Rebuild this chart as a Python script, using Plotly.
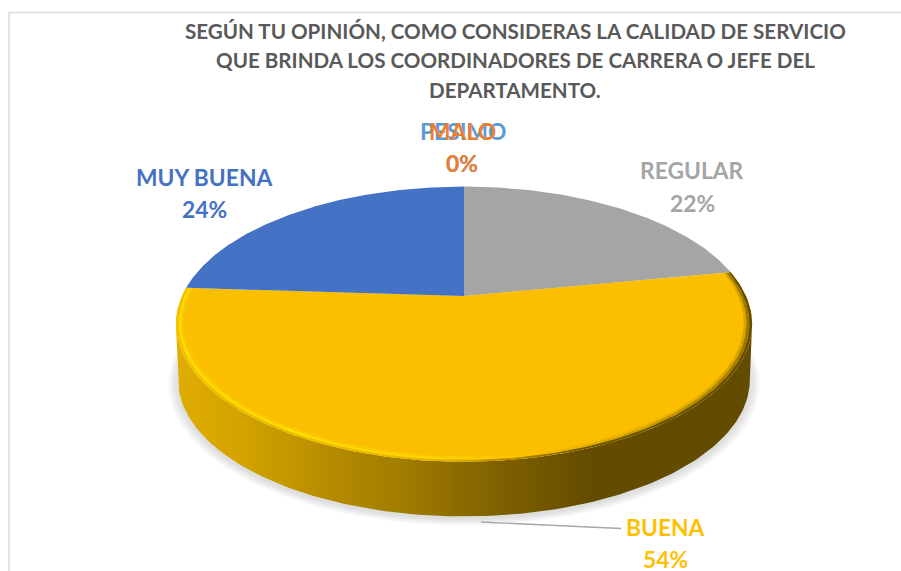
import numpy as np
import plotly.graph_objects as go

# ---- data (clockwise from 12 o'clock) ----
categories = ["REGULAR", "BUENA", "MUY BUENA", "MALO", "PESIMO"]
values = [22, 54, 24, 0, 0]
slice_colors = ["#a5a5a5", "#fbbf00", "#4472c4", "#ed7d31", "#5b9bd5"]
label_colors = ["#a5a5a5", "#ffc000", "#4472c4", "#ed7d31", "#5b9bd5"]
title_lines = [
    "SEGÚN TU OPINIÓN, COMO CONSIDERAS LA CALIDAD DE SERVICIO",
    "QUE BRINDA LOS COORDINADORES DE CARRERA O JEFE DEL",
    "DEPARTAMENTO.",
]

# ---- layout of the drawing, in page pixels ----
W, H = 901, 571
CX, CY = 464.0, 296.0     # apex of the pie
A, B, K = 131.8, 282.0, 0.2047  # perspective projection of the disc
DEPTH = 56.0
FONT = "Lato"
title_y = [31, 60, 90]
title_x = [515, 515, 515]
label_xy = [((692, 170), (692, 203)), ((665, 527), (665, 559)),
            ((204, 177), (204, 209)), ((462, 131), (462, 163)), ((463, 131), (462, 163))]


def disc(theta_deg, s=1.0, dy=0.0, shrink=1.0):
    t = np.radians(np.asarray(theta_deg, dtype=float))
    x, y = s * np.sin(t), s * np.cos(t)
    w = 1 + K * y
    return CX + shrink * B * x / w, CY + dy - shrink * A * y / w


def arc(a, b, n=160):
    return np.linspace(a, b, n)


fig = go.Figure()


def poly(xs, ys, **kw):
    fig.add_trace(go.Scatter(x=xs, y=ys, mode="lines", line=dict(width=0), fill="toself",
                             hoverinfo="skip", showlegend=False, **kw))


# soft shadow under the disc
for grow in [1.035, 1.028, 1.021, 1.014, 1.007]:
    x, y = disc(arc(0, 360, 240), s=grow, dy=DEPTH + 2, shrink=0.99)
    poly(x, y, fillcolor="rgba(120,120,120,0.055)")

# side wall
TR, TL = 101.8, 258.2
xt, yt = disc(arc(TR, TL))
xb, yb = disc(arc(TL, TR), dy=DEPTH, shrink=0.992)
poly(np.r_[xt, xb], np.r_[yt, yb], fillgradient=dict(
    type="horizontal", start=177, stop=752,
    colorscale=[[0, "#e0ad00"], [0.12, "#d2a200"], [0.28, "#b38a00"], [0.4, "#a07b00"],
                [0.55, "#806200"], [0.72, "#634c00"], [1, "#634c00"]]))

# top surface: one wedge per value
start = 0.0
total = sum(values)
for cat, val, col in zip(categories, values, slice_colors):
    sweep = 360.0 * val / total
    if val > 0:
        x, y = disc(arc(start, start + sweep))
        poly(np.r_[CX, x, CX], np.r_[CY, y, CY], fillcolor=col)
    start += sweep

# bevel along the front rim
BA, BE = 79.2, 273.6
bands = [
    (0.972, 0.981, [[0, "#fcc400"], [0.3, "#fdcb00"], [0.55, "#fcc400"], [0.65, "#fbbf00"],
                    [0.9, "#e6ae00"], [1, "#d6a200"]]),
    (0.981, 0.991, [[0, "#ffd800"], [0.2, "#ffe200"], [0.48, "#ffd400"], [0.62, "#fcc000"],
                    [0.85, "#c29400"], [1, "#9a7600"]]),
    (0.991, 1.000, [[0, "#f2c200"], [0.45, "#e8b400"], [0.6, "#a98200"], [0.72, "#6e5500"],
                    [1, "#634c00"]]),
]
for s_in, s_out, scale in bands:
    xo, yo = disc(arc(BA, BE), s=s_out)
    xi, yi = disc(arc(BE, BA), s=s_in)
    poly(np.r_[xo, xi], np.r_[yo, yi], fillgradient=dict(
        type="horizontal", start=177, stop=752, colorscale=scale))

annotations = []


def text(x, y, s, color, size):
    annotations.append(dict(x=x, y=y, xref="x", yref="y", text=s, showarrow=False,
                            xanchor="center", yanchor="middle",
                            font=dict(family=FONT, size=size, color=color, weight="bold")))


for line, tx, ty in zip(title_lines, title_x, title_y):
    text(tx, ty, line, "#595959", 20.6)

# later categories are painted first so that MALO sits on PESIMO as in the source
for i in [0, 1, 2, 4, 3]:
    (nx, ny), (px, py) = label_xy[i]
    pct = round(100 * values[i] / total)
    text(nx, ny, categories[i], label_colors[i], 22.8)
    text(px, py, f"{pct}%", label_colors[i], 22.8)

fig.update_layout(
    width=W, height=H, margin=dict(l=0, r=0, t=0, b=0), showlegend=False,
    paper_bgcolor="white", plot_bgcolor="white",
    xaxis=dict(range=[0, W], visible=False, fixedrange=True),
    yaxis=dict(range=[H, 0], visible=False, fixedrange=True),
    annotations=annotations,
    shapes=[
        dict(type="line", x0=9, y0=12.5, x1=W, y1=12.5, line=dict(color="#d9d9d9", width=1.5), layer="below"),
        dict(type="line", x0=9, y0=12, x1=9, y1=H, line=dict(color="#d9d9d9", width=1.5), layer="below"),
        dict(type="line", x0=481, y0=522, x1=621, y1=528.5, line=dict(color="#a6a6a6", width=1.3)),
    ],
)

fig.write_html("out.html", config={"displayModeBar": False},
               post_script="document.body.style.margin='0';document.body.style.overflow='hidden';")
